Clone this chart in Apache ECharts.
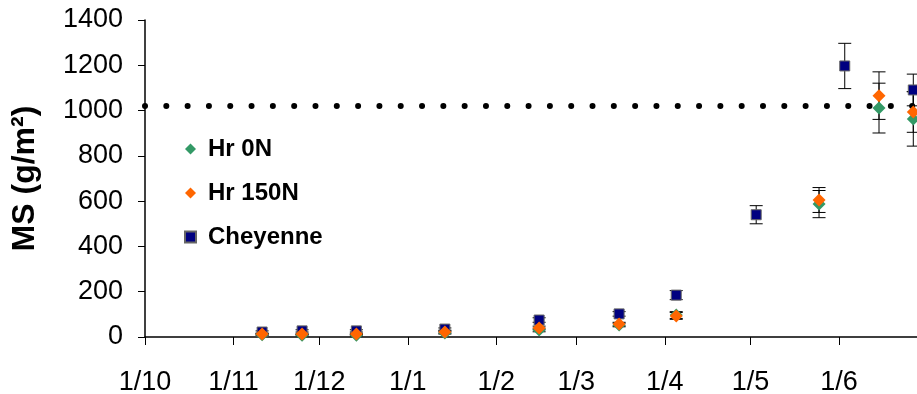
<!DOCTYPE html>
<html>
<head>
<meta charset="utf-8">
<script src="https://cdn.jsdelivr.net/npm/echarts@6/dist/echarts.min.js"></script>
<style>html,body{margin:0;padding:0;background:#fff}#c{width:917px;height:394px}</style>
</head>
<body>
<div id="c"></div>
<script>
// ---- data ----
const tickDates = ['2004-10-01','2004-11-01','2004-12-01','2005-01-01','2005-02-01','2005-03-01','2005-04-01','2005-05-01','2005-06-01'];
const tickLabels = ['1/10','1/11','1/12','1/1','1/2','1/3','1/4','1/5','1/6'];

const cheyDates = ['2004-11-11','2004-11-25','2004-12-14','2005-01-14','2005-02-16','2005-03-16','2005-04-05','2005-05-03','2005-06-03','2005-06-27'];
const cheyValues = [22, 27, 27, 35, 75, 102, 185, 540, 1197, 1091];
const cheyErr = [5, 5, 5, 5, 10, 10, 20, 40, 100, 70];

const hrDates = ['2004-11-11','2004-11-25','2004-12-14','2005-01-14','2005-02-16','2005-03-16','2005-04-05','2005-05-25','2005-06-15','2005-06-27'];
const hr0Values = [10, 8, 8, 18, 31, 53, 97, 587, 1011, 963];
const hr0Err = [3, 3, 3, 5, 8, 8, 15, 60, 110, 120];
const hr150Values = [13, 13, 13, 22, 40, 57, 93, 605, 1066, 994];
const hr150Err = [3, 3, 3, 5, 8, 8, 15, 55, 105, 90];

const thresholdValue = 1020;
const axisStart = '2004-10-01';
const axisEndDays = 270.3;

// ---- helpers ----
const t0 = (function(s){const p=s.split('-').map(Number);return Date.UTC(p[0],p[1]-1,p[2]);})(axisStart);
function day(s){const p=s.split('-').map(Number);return (Date.UTC(p[0],p[1]-1,p[2])-t0)/86400000;}
const tickDays = tickDates.map(day);

function pts(dates, vals){return dates.map((d,i)=>[day(d), vals[i]]);}
function errs(dates, vals, e){return dates.map((d,i)=>[day(d), vals[i]-e[i], vals[i]+e[i]]);}

function errRender(params, api){
  const x = api.value(0), lo = api.value(1), hi = api.value(2);
  const pLo = api.coord([x, lo]), pHi = api.coord([x, hi]);
  const w = 6.5;
  const st = {stroke:'#000', lineWidth:1};
  return {type:'group', children:[
    {type:'line', shape:{x1:pLo[0],y1:pLo[1],x2:pHi[0],y2:pHi[1]}, style:st},
    {type:'line', shape:{x1:pLo[0]-w,y1:pLo[1],x2:pLo[0]+w,y2:pLo[1]}, style:st},
    {type:'line', shape:{x1:pHi[0]-w,y1:pHi[1],x2:pHi[0]+w,y2:pHi[1]}, style:st}
  ]};
}

const FONT = '"Liberation Sans", Arial, sans-serif';
const chart = echarts.init(document.getElementById('c'), null, {renderer:'canvas'});
chart.setOption({
  animation:false,
  backgroundColor:'#fff',
  grid:{left:145, top:20, right:0, bottom:57, containLabel:false, outerBoundsMode:'none'},
  legend:{
    orient:'vertical', left:179, top:132, itemGap:20,
    itemWidth:11, itemHeight:11,
    data:[
      {name:'Hr 0N', icon:'diamond'},
      {name:'Hr 150N', icon:'diamond'},
      {name:'Cheyenne', icon:'rect'}
    ],
    textStyle:{fontFamily:FONT, fontWeight:'bold', fontSize:24, lineHeight:24, color:'#000', padding:[0,0,0,7]}
  },
  xAxis:{
    type:'value', min:0, max:axisEndDays,
    axisLine:{show:true, onZero:false, lineStyle:{color:'#000', width:1.5}},
    axisTick:{show:true, customValues:tickDays, length:8, lineStyle:{color:'#000', width:1}},
    axisLabel:{customValues:tickDays, margin:32, fontFamily:FONT, fontSize:27, color:'#000',
      formatter:function(v){const i=tickDays.indexOf(v);return i>=0?tickLabels[i]:'';}},
    splitLine:{show:false}
  },
  yAxis:{
    type:'value', min:0, max:1400, interval:200,
    name:'MS (g/m²)', nameLocation:'middle', nameGap:104, nameRotate:90,
    nameTextStyle:{fontFamily:FONT, fontWeight:'bold', fontSize:32, color:'#000'},
    axisLine:{show:true, lineStyle:{color:'#000', width:1.5}},
    axisTick:{show:true, length:7, lineStyle:{color:'#000', width:1}},
    axisLabel:{margin:22, fontFamily:FONT, fontSize:27, color:'#000', formatter:function(v){return String(v);}},
    splitLine:{show:false}
  },
  series:[
    {type:'custom', name:'errChey', renderItem:errRender, data:errs(cheyDates, cheyValues, cheyErr), z:1, silent:true},
    {type:'custom', name:'errHr0', renderItem:errRender, data:errs(hrDates, hr0Values, hr0Err), z:1, silent:true},
    {type:'custom', name:'errHr150', renderItem:errRender, data:errs(hrDates, hr150Values, hr150Err), z:1, silent:true},
    {type:'scatter', name:'Cheyenne', symbol:'rect', symbolSize:10, z:3,
      itemStyle:{color:'#000080', borderColor:'#666', borderWidth:1, opacity:1},
      data:pts(cheyDates, cheyValues),
      markLine:{silent:true, symbol:'none', label:{show:false},
        lineStyle:{color:'#000', width:6, type:[0.01,21.3], cap:'round', opacity:1},
        data:[{yAxis:thresholdValue}]}
    },
    {type:'scatter', name:'Hr 0N', symbol:'diamond', symbolSize:13, z:4,
      itemStyle:{color:'#339966', opacity:1}, data:pts(hrDates, hr0Values)},
    {type:'scatter', name:'Hr 150N', symbol:'diamond', symbolSize:13, z:5,
      itemStyle:{color:'#FF6600', opacity:1}, data:pts(hrDates, hr150Values)}
  ]
});
</script>
</body>
</html>
